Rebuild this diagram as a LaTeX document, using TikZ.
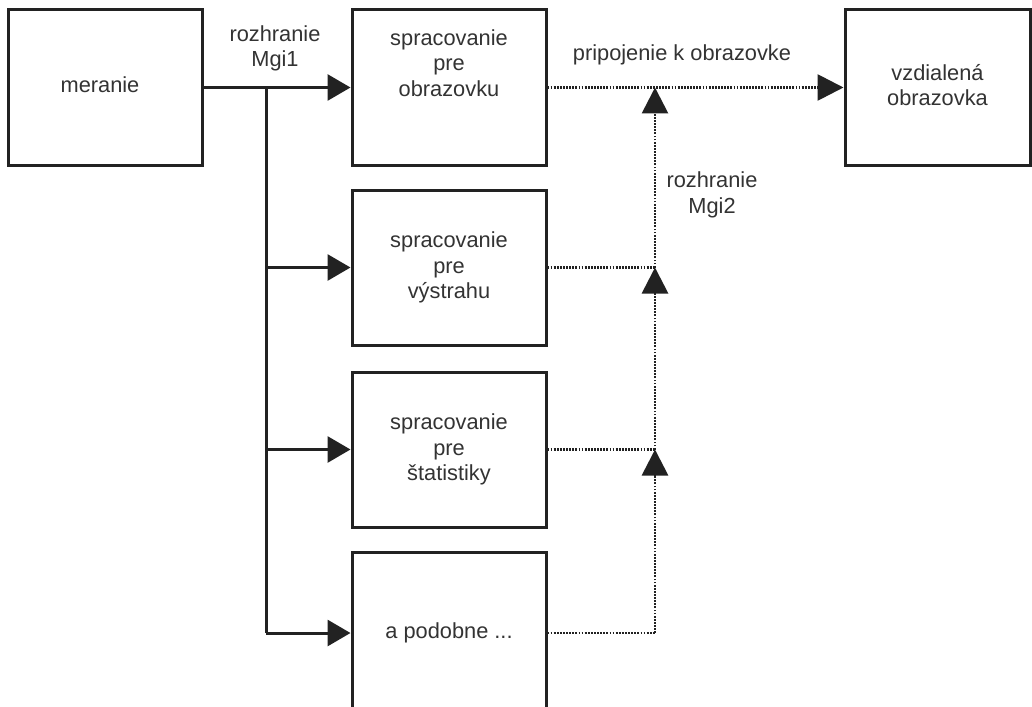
\documentclass[tikz,border=0pt]{standalone}
\usepackage{fontspec}
\setmainfont{Liberation Sans}
\usetikzlibrary{arrows.meta}
\definecolor{ink}{HTML}{222222}
\definecolor{txt}{HTML}{333333}
\begin{document}
\begin{tikzpicture}[x=1pt,y=-1pt,
  box/.style={draw=ink,line width=3pt,minimum width=194pt,minimum height=155pt,inner sep=0pt,
    font=\fontsize{21.8}{25.5}\selectfont,text=txt,align=center},
  lbl/.style={font=\fontsize{21.8}{25.5}\selectfont,text=txt,align=center,inner sep=0pt},
  conn/.style={draw=ink,line width=3pt,-{Triangle[length=23pt,width=26pt]}},
  plain/.style={draw=ink,line width=3pt},
  dotconn/.style={draw=ink,line width=2.8pt,dash pattern=on 1.8pt off 1.3pt},
  dotarrow/.style={dotconn,-{Triangle[length=26pt,width=26pt]}}
]
\useasboundingbox (0,0) rectangle (1032,706);
\clip (0,0) rectangle (1032,706);
\fill[white] (0,0) rectangle (1032,706);

\node[box] (mer) at (105.5,87.5) {};
\node[lbl] (mert) at (100,85) {meranie};
\node[box] (b1) at (449,87.5) {};
\node[lbl] (b1t) at (449,63) {spracovanie\\pre\\obrazovku};
\node[box] (b2) at (449,267.5) {spracovanie\\pre\\výstrahu};
\node[box] (b3) at (449,449.5) {spracovanie\\pre\\štatistiky};
\node[box,minimum height=162pt] (b4) at (449,633) {a podobne ...};
\node[box,minimum width=185pt] (vz) at (937.5,87.5) {};
\node[lbl] (vzt) at (937.5,85) {vzdialená\\obrazovka};

\node[lbl] (mgi1) at (275,48.5) {rozhranie\\Mgi1};
\node[lbl] (prip) at (682,55) {pripojenie k obrazovke};
\node[lbl] (mgi2) at (712,195) {rozhranie\\Mgi2};

% solid branches
\coordinate (s1) at (266,87.5);
\coordinate (s4) at (266,633);
\draw[conn] (mer.east) -- (b1.west);
\draw[plain] (s1) -- (s4);
\draw[conn] (s1 |- b2.west) -- (b2.west);
\draw[conn] (s1 |- b3.west) -- (b3.west);
\draw[conn] (s4) -- (b4.west);

% dotted branches
\coordinate (j1) at (655,87.5);
\coordinate (j2) at (655,267.5);
\coordinate (j3) at (655,449.5);
\coordinate (j4) at (655,633);
\draw[dotarrow] (b1.east) -- (vz.west);
\draw[dotconn] (b2.east) -- (j2);
\draw[dotconn] (b3.east) -- (j3);
\draw[dotconn] (b4.east) -- (j4);
\draw[dotarrow] (j4) -- (j3);
\draw[dotarrow] (j3) -- (j2);
\draw[dotarrow] (j2) -- (j1);
\end{tikzpicture}
\end{document}
